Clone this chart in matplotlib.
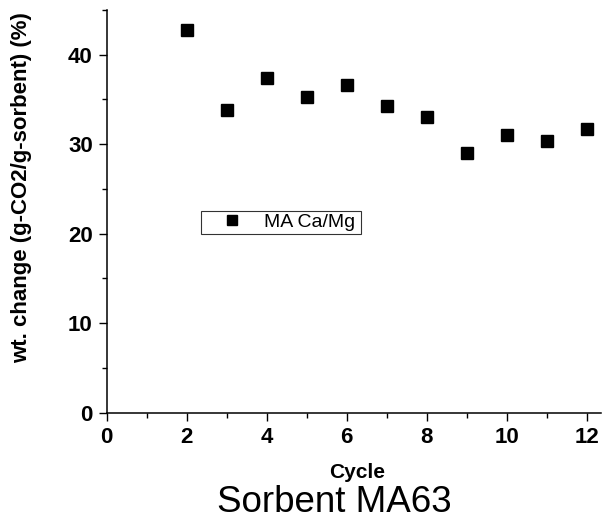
import matplotlib
matplotlib.use("Agg")
import matplotlib.pyplot as plt
from matplotlib.ticker import MultipleLocator

cycles = [2, 3, 4, 5, 6, 7, 8, 9, 10, 11, 12]
wt_change = [42.8, 33.8, 37.4, 35.3, 36.6, 34.3, 33.0, 29.05, 31.0, 30.4, 31.7]
series_label = "MA Ca/Mg"
x_label = "Cycle"
y_label = "wt. change (g-CO2/g-sorbent) (%)"
caption = "Sorbent MA63"

plt.rcParams['font.family'] = ['Liberation Sans', 'DejaVu Sans']

W, H = 605, 522
fig = plt.figure(figsize=(W / 100, H / 100), dpi=100)
ax = fig.add_axes([106.7 / W, 1 - 412.7 / H, (600.5 - 106.7) / W, (412.7 - 10) / H])

ax.plot(cycles, wt_change, linestyle='none', marker='s', markersize=8.0,
        color='black', label=series_label)

ax.set_xlim(0, 12.35)
ax.set_ylim(0, 45)
ax.xaxis.set_major_locator(MultipleLocator(2))
ax.xaxis.set_minor_locator(MultipleLocator(1))
ax.yaxis.set_major_locator(MultipleLocator(10))
ax.yaxis.set_minor_locator(MultipleLocator(5))

for s in ['top', 'right']:
    ax.spines[s].set_visible(False)
for s in ['left', 'bottom']:
    ax.spines[s].set_linewidth(1.1)

ax.tick_params(which='major', direction='out', length=5.5, width=1.0, pad=4.5)
ax.tick_params(which='minor', direction='out', length=3.5, width=1.0)
for lab in ax.get_xticklabels() + ax.get_yticklabels():
    lab.set_fontweight('bold')
    lab.set_fontsize(16)

ax.set_xlabel(x_label, fontsize=15, fontweight='bold')
ax.xaxis.set_label_coords(357 / W, 1 - 463 / H, transform=fig.transFigure)
ax.set_ylabel(y_label, fontsize=16, fontweight='bold')
ax.yaxis.set_label_coords(32 / W, 1 - 188 / H, transform=fig.transFigure)

leg = ax.legend(loc='lower left',
                bbox_to_anchor=(2.36 / 12.35, 19.97 / 45, (6.36 - 2.36) / 12.35, (22.76 - 19.97) / 45),
                mode='expand', fancybox=False, frameon=True, fontsize=14, markerscale=0.85,
                handlelength=2.9, handletextpad=0.2, borderpad=0.15, borderaxespad=0)
leg.get_frame().set_edgecolor('black')
leg.get_frame().set_linewidth(0.8)

fig.text(334.5 / W, 1 - 503 / H, caption, fontsize=26.5, ha='center', va='center')

fig.savefig("out.png", dpi=100)
